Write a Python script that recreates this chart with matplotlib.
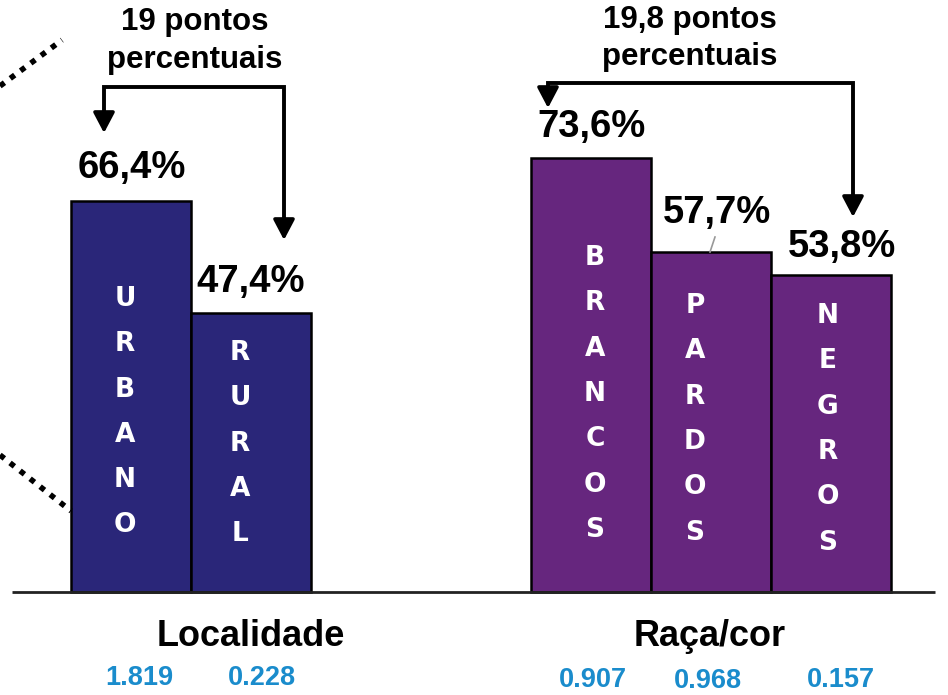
import matplotlib
matplotlib.use("Agg")
import matplotlib.pyplot as plt

# ---------------- data ----------------
categories = ["URBANO", "RURAL", "BRANCOS", "PARDOS", "NEGROS"]
values = [66.4, 47.4, 73.6, 57.7, 53.8]
value_labels = ["66,4%", "47,4%", "73,6%", "57,7%", "53,8%"]
groups = ["Localidade", "Raça/cor"]
counts = ["1.819", "0.228", "0.907", "0.968", "0.157"]
gap_labels = ["19 pontos\npercentuais", "19,8 pontos\npercentuais"]

# ---------------- layout (pixel-based) ----------------
W, H = 948, 695
BASE = 592.0          # baseline pixel row
SCALE = 5.89          # pixels per percentage point

def v(py):
    """pixel row (from top) -> data value"""
    return (BASE - py) / SCALE

plt.rcParams['font.family'] = ['Liberation Sans', 'DejaVu Sans']
fig = plt.figure(figsize=(W / 100, H / 100), dpi=100)
ax = fig.add_axes([0, 0, 1, 1])
ax.set_xlim(0, W)
ax.set_ylim(v(H), v(0))
ax.axis("off")

navy = "#2a2679"
purple = "#66267e"
colors = [navy, navy, purple, purple, purple]
centers = [131, 251, 591, 711, 831]
bar_w = 120

ax.bar(centers, values, width=bar_w, color=colors, edgecolor="black",
       linewidth=1.8, zorder=2)

# baseline
ax.plot([12, 935], [0, 0], color="#222222", lw=2, zorder=3, solid_capstyle="butt")

# vertical letters in bars
letter_x_off = [-6, -11, 4, -16, -3]
letter_top = [299, 353, 258, 306, 316]
spacing = 45.3
for cat, cx, dx, ty in zip(categories, centers, letter_x_off, letter_top):
    for i, ch in enumerate(cat):
        ax.text(cx + dx, v(ty + i * spacing), ch, color="white", fontsize=19,
                fontweight="bold", family=["DejaVu Sans"], ha="center",
                va="center", zorder=4)

# value labels
label_pos = [(132, 168), (251, 282), (592, 127), (717, 213), (842, 247)]
for lab, (px, py) in zip(value_labels, label_pos):
    ax.text(px, v(py), lab, fontsize=27.5, fontweight="bold", ha="center",
            va="center", color="black", zorder=4)

# leader line for 57,7%
ax.plot([715, 710], [v(237), v(252)], color="#999999", lw=1.2, zorder=3)

# gap annotations (text)
gap_pos = [(195, 22, 60), (690, 20, 57)]
for lab, (px, py1, py2) in zip(gap_labels, gap_pos):
    l1, l2 = lab.split("\n")
    ax.text(px, v(py1), l1, fontsize=22.5, fontweight="bold", ha="center", va="center")
    ax.text(px, v(py2), l2, fontsize=22.5, fontweight="bold", ha="center", va="center")

# bracket arrows
def bracket(xl, xr, ytop, yl_tip, yr_tip):
    ax.plot([xl, xl, xr, xr], [v(yl_tip - 12), v(ytop), v(ytop), v(yr_tip - 12)],
            color="black", lw=2.8, solid_joinstyle="miter", zorder=3)
    for x, yt in ((xl, yl_tip), (xr, yr_tip)):
        ax.annotate("", xy=(x, v(yt)), xytext=(x, v(yt - 14)),
                    arrowprops=dict(arrowstyle="-|>,head_length=0.95,head_width=0.5",
                                    mutation_scale=13, color="black", lw=2.6,
                                    shrinkA=0, shrinkB=0), zorder=3)

bracket(104, 284, 87, 133, 240)
bracket(548, 853, 83, 108, 217)

# dotted lines at the left
ax.plot([0, 62], [v(86), v(40)], color="black", lw=4, ls=(0, (1, 1.3)), zorder=3)
ax.plot([0, 71], [v(455), v(511)], color="black", lw=4, ls=(0, (1, 1.3)), zorder=3)

# group labels
ax.text(251, v(636), groups[0], fontsize=26, fontweight="bold", ha="center", va="center")
ax.text(710, v(637), groups[1], fontsize=26, fontweight="bold", ha="center", va="center")

# counts
count_pos = [(139, 678), (262, 678), (593, 680), (708, 681), (841, 680)]
for c, (px, py) in zip(counts, count_pos):
    ax.text(px, v(py), c, fontsize=19.5, fontweight="bold", ha="center",
            va="center", color="#1a8ccc")

fig.savefig("out.png", dpi=100, facecolor="white")
